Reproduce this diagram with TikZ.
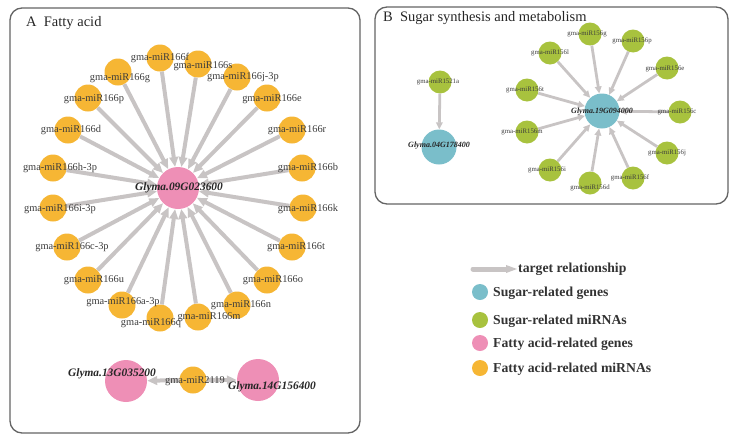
\documentclass[tikz,border=0pt]{standalone}
\usepackage{fontspec}
\setmainfont{Liberation Serif}
\usetikzlibrary{arrows.meta}
\definecolor{pinkC}{RGB}{238,143,182}
\definecolor{orangeC}{RGB}{246,182,52}
\definecolor{tealC}{RGB}{122,190,202}
\definecolor{greenC}{RGB}{168,194,62}
\definecolor{edgeC}{RGB}{200,196,196}
\definecolor{frameC}{RGB}{100,100,100}
\definecolor{txtC}{RGB}{60,60,60}
\tikzset{
  mirA/.style={circle, fill=orangeC, minimum size=27pt, inner sep=0pt},
  geneA/.style={circle, fill=pinkC, minimum size=42pt, inner sep=0pt},
  mirB/.style={circle, fill=greenC, minimum size=23pt, inner sep=0pt},
  geneB/.style={circle, fill=tealC, minimum size=35pt, inner sep=0pt},
  lblA/.style={font=\fontsize{10.4}{11}\selectfont, text=txtC, inner sep=0pt},
  lblB/.style={font=\fontsize{6.8}{7}\selectfont, text=txtC, inner sep=0pt},
  glabA/.style={font=\fontsize{11.4}{12}\selectfont\bfseries\itshape, text=black!85, inner sep=0pt},
  glabB/.style={font=\fontsize{8}{9}\selectfont\bfseries\itshape, text=black!85, inner sep=0pt},
  arrA/.style={draw=edgeC, line width=4pt, -{Triangle[width=8.5pt,length=10pt]}},
  arrB/.style={draw=edgeC, line width=2.8pt, -{Triangle[width=6.5pt,length=7pt]}},
  frame/.style={draw=frameC, line width=1.3pt, rounded corners=12pt},
  ttl/.style={font=\fontsize{14.5}{16}\selectfont, text=black!85, anchor=west, inner sep=0pt},
  legtxt/.style={font=\fontsize{13.7}{15}\selectfont\bfseries, text=black!80, anchor=west, inner sep=0pt},
  legdot/.style={circle, minimum size=16pt, inner sep=0pt}
}
\begin{document}
\begin{tikzpicture}[x=1pt,y=-1pt]
\useasboundingbox (0,0) rectangle (735,442);
% frames
\draw[frame] (10,8) rectangle (360,433);
\draw[frame] (375,7) rectangle (728,204);
\node[ttl] (tA) at (26,23) {A\ \ Fatty acid};
\node[ttl] (tB) at (383,18) {B\ \ Sugar synthesis and metabolism};
% ---------- Panel A nodes ----------
\node[geneA] (g09) at (178,188) {};
\foreach \n/\x/\y in {166f/160/58, 166s/198/64, 166g/118/72, 166j/237/77,
  166p/88/98, 166e/267/98, 166d/68/130, 166r/292/130, 166h/53/168,
  166b/302/168, 166i/53/208, 166k/303/208, 166c/67/247, 166t/292/247,
  166u/88/280, 166o/267/280, 166a/122/305, 166n/237/305, 166q/160/318,
  166m/198/317}
  {\node[mirA] (m\n) at (\x,\y) {};}
\foreach \n in {166f,166s,166g,166j,166p,166e,166d,166r,166h,166b,166i,166k,166c,166t,166u,166o,166a,166n,166q,166m}
  {\draw[arrA] (m\n) -- (g09);}
\node[geneA] (g13) at (126,381) {};
\node[mirA] (m2119) at (193,380) {};
\node[geneA] (g14) at (258,380) {};
\draw[arrA] (m2119) -- (g13);
\draw[arrA] (m2119) -- (g14);
% labels A
\node[lblA] (l166f) at (160,58) {gma-miR166f};
\node[lblA] (l166s) at (203,66) {gma-miR166s};
\node[lblA] (l166g) at (120,78) {gma-miR166g};
\node[lblA] (l166j) at (243,77) {gma-miR166j-3p};
\node[lblA] (l166p) at (94,99) {gma-miR166p};
\node[lblA] (l166e) at (272,99) {gma-miR166e};
\node[lblA] (l166d) at (71,130) {gma-miR166d};
\node[lblA] (l166r) at (297,130) {gma-miR166r};
\node[lblA] (l166h) at (60,168) {gma-miR166h-3p};
\node[lblA] (l166b) at (308,168) {gma-miR166b};
\node[lblA] (l166i) at (60,209) {gma-miR166i-3p};
\node[lblA] (l166k) at (308,209) {gma-miR166k};
\node[lblA] (l166c) at (72,247) {gma-miR166c-3p};
\node[lblA] (l166t) at (296,247) {gma-miR166t};
\node[lblA] (l166u) at (94,280) {gma-miR166u};
\node[lblA] (l166o) at (273,280) {gma-miR166o};
\node[lblA] (l166a) at (123,302) {gma-miR166a-3p};
\node[lblA] (l166n) at (241,305) {gma-miR166n};
\node[lblA] (l166q) at (151,323) {gma-miR166q};
\node[lblA] (l166m) at (209,317) {gma-miR166m};
\node[glabA] (lg09) at (179,188) {Glyma.09G023600};
\node[glabA] (lg13) at (112,374) {Glyma.13G035200};
\node[lblA] (l2119) at (195,381) {gma-miR2119};
\node[glabA] (lg14) at (272,387) {Glyma.14G156400};
% ---------- Panel B nodes ----------
\node[mirB] (m1521) at (440,82) {};
\node[geneB] (g04) at (439,147) {};
\draw[arrB] (m1521) -- (g04);
\node[geneB] (g19) at (602,111) {};
\foreach \n/\x/\y in {156g/590/34, 156p/633/41, 156l/550/53, 156e/667/68,
  156t/527/90, 156c/680/112, 156m/527/132, 156j/667/153, 156i/550/170,
  156f/633/178, 156d/590/183}
  {\node[mirB] (m\n) at (\x,\y) {};}
\foreach \n in {156g,156p,156l,156e,156t,156c,156m,156j,156i,156f,156d}
  {\draw[arrB] (m\n) -- (g19);}
\node[lblB] (l1521) at (438,82) {gma-miR1521a};
\node[glabB] (lg04) at (439,146) {Glyma.04G178400};
\node[glabB] (lg19) at (602,112) {Glyma.19G094000};
\node[lblB] (l156g) at (587,34) {gma-miR156g};
\node[lblB] (l156p) at (632,41) {gma-miR156p};
\node[lblB] (l156l) at (550,53) {gma-miR156l};
\node[lblB] (l156e) at (665,69) {gma-miR156e};
\node[lblB] (l156t) at (525,90) {gma-miR156t};
\node[lblB] (l156c) at (677,112) {gma-miR156c};
\node[lblB] (l156m) at (522,132) {gma-miR156m};
\node[lblB] (l156j) at (667,153) {gma-miR156j};
\node[lblB] (l156i) at (547,170) {gma-miR156i};
\node[lblB] (l156f) at (630,178) {gma-miR156f};
\node[lblB] (l156d) at (590,188) {gma-miR156d};
% ---------- Legend ----------
\coordinate (la1) at (473,269);
\coordinate (la2) at (518,269);
\draw[draw=edgeC, line width=5pt, line cap=round, -{Triangle[width=7pt,length=12pt]}] (la1) -- (la2);
\node[legtxt] (lt0) at (518,269) {target relationship};
\node[legdot, fill=tealC] (ld1) at (480,292) {};
\node[legtxt] (lt1) at (493,293) {Sugar-related genes};
\node[legdot, fill=greenC] (ld2) at (480,320) {};
\node[legtxt] (lt2) at (493,321) {Sugar-related miRNAs};
\node[legdot, fill=pinkC] (ld3) at (480,343) {};
\node[legtxt] (lt3) at (493,344) {Fatty acid-related genes};
\node[legdot, fill=orangeC] (ld4) at (480,368) {};
\node[legtxt] (lt4) at (493,369) {Fatty acid-related miRNAs};
\end{tikzpicture}
\end{document}
